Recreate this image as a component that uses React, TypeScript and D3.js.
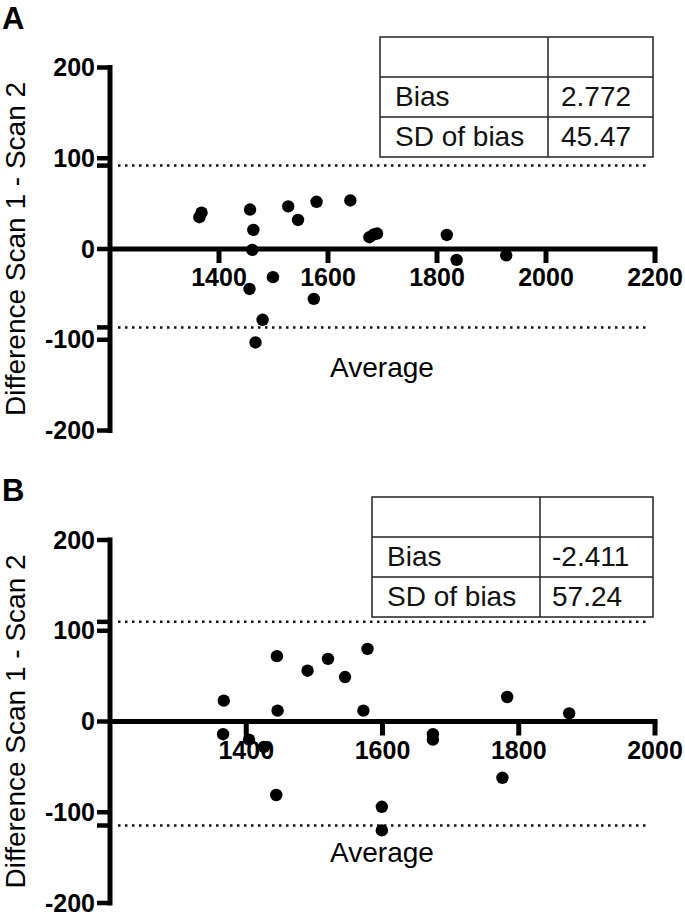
import React from "react";
import * as d3 from "d3";

// panel A values
const avgA = [1364, 1368, 1457, 1463, 1461, 1456, 1467, 1480, 1499, 1527, 1545, 1579, 1574, 1641, 1676, 1684, 1690, 1818, 1836, 1927];
const diffA = [35, 40, 43.5, 21, -1, -44, -103, -78, -31, 47, 32, 52, -55, 53.5, 13, 16, 17, 15.5, -12, -7];
const limitsA = [91.9, -86.4];
const statsA = ["2.772", "45.47"];
const xTicksA = [1400, 1600, 1800, 2000, 2200];

// panel B values
const avgB = [1367, 1366, 1404, 1426, 1445, 1446, 1444, 1490, 1520, 1545, 1572, 1578, 1599, 1599, 1674, 1674, 1776, 1783, 1874];
const diffB = [23, -14, -20, -28, 72, 12, -81, 56, 69, 49, 12, 80, -94, -120, -14, -20, -62, 27, 9];
const limitsB = [109.8, -114.6];
const statsB = ["-2.411", "57.24"];
const xTicksB = [1400, 1600, 1800, 2000];

const yTicks = [200, 100, 0, -100, -200];
const rowNames = ["Bias", "SD of bias"];

const FONT = "'Liberation Sans', Arial, sans-serif";

type PanelProps = {
  letter: string;
  top: number;
  xs: number[];
  ys: number[];
  limits: number[];
  stats: string[];
  xTicks: number[];
  xMax: number;
  table: { x0: number; x1: number; xm: number; y0: number; labelX: number; valueX: number };
  avgOffset: number;
};

const Panel = ({ letter, top, xs, ys, limits, stats, xTicks, xMax, table, avgOffset }: PanelProps) => {
  const x = d3.scaleLinear().domain([1200, xMax]).range([110, 655]);
  const y = d3.scaleLinear().domain([-200, 200]).range([top + 363, top]);
  const y0 = y(0);
  const rowH = 40;

  return (
    <g>
      <text x={2} y={top - 39} fontFamily={FONT} fontWeight="bold" fontSize={31}>
        {letter}
      </text>

      {/* limits of agreement */}
      {limits.map((l, i) => (
        <line
          key={i}
          x1={118}
          x2={650}
          y1={y(l)}
          y2={y(l)}
          stroke="#111"
          strokeWidth={2.5}
          strokeDasharray="2.5 4.5"
        />
      ))}

      {/* table */}
      <g stroke="#222" strokeWidth={1.5} fill="none">
        <rect x={table.x0} y={table.y0} width={table.x1 - table.x0} height={rowH * 3} />
        <line x1={table.x0} x2={table.x1} y1={table.y0 + rowH} y2={table.y0 + rowH} />
        <line x1={table.x0} x2={table.x1} y1={table.y0 + rowH * 2} y2={table.y0 + rowH * 2} />
        <line x1={table.xm} x2={table.xm} y1={table.y0} y2={table.y0 + rowH * 3} />
      </g>
      {rowNames.map((r, i) => (
        <g key={r} fontFamily={FONT} fontSize={28} fill="#111">
          <text x={table.labelX} y={table.y0 + rowH * (i + 1) + 29}>{r}</text>
          <text x={table.valueX} y={table.y0 + rowH * (i + 1) + 29}>{stats[i]}</text>
        </g>
      ))}

      {/* y axis */}
      <line x1={110} x2={110} y1={y(200) - 2.5} y2={y(-200) + 2.5} stroke="#000" strokeWidth={5} />
      {yTicks.concat(limits).map((t, i) => (
        <line key={i} x1={97} x2={110} y1={y(t)} y2={y(t)} stroke="#000" strokeWidth={4.5} />
      ))}
      {yTicks.map((t) => (
        <text
          key={t}
          x={95}
          y={y(t)}
          dy="0.34em"
          textAnchor="end"
          fontFamily={FONT}
          fontWeight="bold"
          fontSize={25}
        >
          {t}
        </text>
      ))}

      {/* x axis */}
      <line x1={108} x2={x(xMax) + 2.5} y1={y0} y2={y0} stroke="#000" strokeWidth={5} />
      {xTicks.map((t) => (
        <g key={t}>
          <line x1={x(t)} x2={x(t)} y1={y0} y2={y0 + 14} stroke="#000" strokeWidth={5} />
          <text
            x={x(t)}
            y={y0 + 37}
            textAnchor="middle"
            fontFamily={FONT}
            fontWeight="bold"
            fontSize={25}
          >
            {t}
          </text>
        </g>
      ))}

      {/* points */}
      {xs.map((v, i) => (
        <circle key={i} cx={x(v)} cy={y(ys[i])} r={6.2} fill="#000" />
      ))}

      <text x={382} y={y0 + avgOffset} textAnchor="middle" fontFamily={FONT} fontSize={28}>
        Average
      </text>
      <text
        transform={`translate(25,${y0}) rotate(-90)`}
        textAnchor="middle"
        fontFamily={FONT}
        fontSize={28}
      >
        Difference Scan 1 - Scan 2
      </text>
    </g>
  );
};

export default function App() {
  return (
    <svg
      width={685}
      height={915}
      style={{ position: "absolute", left: 0, top: 0, background: "#fff" }}
    >
      <Panel
        letter="A"
        top={67.5}
        xs={avgA}
        ys={diffA}
        limits={limitsA}
        stats={statsA}
        xTicks={xTicksA}
        xMax={2200}
        table={{ x0: 380, x1: 653, xm: 548, y0: 37, labelX: 395, valueX: 561 }}
        avgOffset={128}
      />
      <Panel
        letter="B"
        top={540}
        xs={avgB}
        ys={diffB}
        limits={limitsB}
        stats={statsB}
        xTicks={xTicksB}
        xMax={2000}
        table={{ x0: 372, x1: 653, xm: 540, y0: 497, labelX: 387, valueX: 552 }}
        avgOffset={140}
      />
    </svg>
  );
}
